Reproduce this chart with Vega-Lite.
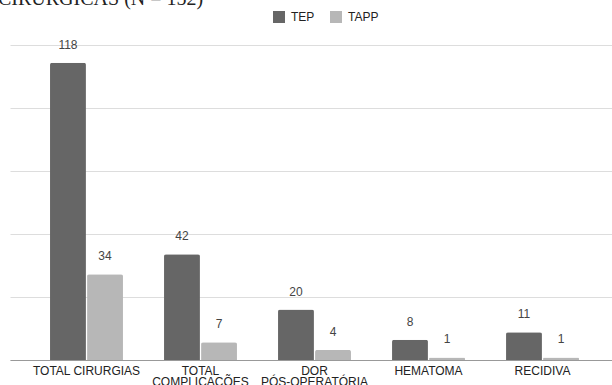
{
  "$schema": "https://vega.github.io/schema/vega-lite/v6.json",
  "autosize": {"type": "none"},
  "width": 609,
  "height": 315,
  "padding": {"left": 10, "top": 45, "right": 0, "bottom": 25},
  "background": "white",
  "title": {
    "text": "CIRÚRGICAS (N = 152)",
    "anchor": "start",
    "frame": "group",
    "font": "Liberation Serif",
    "fontSize": 20,
    "fontWeight": "normal",
    "color": "#222222",
    "baseline": "alphabetic",
    "offset": 6,
    "dy": 20,
    "dx": -12
  },
  "data": {
    "values": [
      {"categoria": "TOTAL CIRURGIAS", "grupo": "TEP", "n": 118},
      {"categoria": "TOTAL CIRURGIAS", "grupo": "TAPP", "n": 34},
      {"categoria": "TOTAL COMPLICAÇÕES", "grupo": "TEP", "n": 42},
      {"categoria": "TOTAL COMPLICAÇÕES", "grupo": "TAPP", "n": 7},
      {"categoria": "DOR PÓS-OPERATÓRIA", "grupo": "TEP", "n": 20},
      {"categoria": "DOR PÓS-OPERATÓRIA", "grupo": "TAPP", "n": 4},
      {"categoria": "HEMATOMA", "grupo": "TEP", "n": 8},
      {"categoria": "HEMATOMA", "grupo": "TAPP", "n": 1},
      {"categoria": "RECIDIVA", "grupo": "TEP", "n": 11},
      {"categoria": "RECIDIVA", "grupo": "TAPP", "n": 1}
    ]
  },
  "encoding": {
    "x": {
      "field": "categoria",
      "type": "nominal",
      "sort": null,
      "title": null,
      "scale": {"paddingInner": 0.36, "paddingOuter": 0.351},
      "axis": {
        "labelAngle": 0,
        "ticks": false,
        "domainColor": "#999999",
        "labelFont": "Liberation Sans",
        "labelFontSize": 12,
        "labelColor": "#222222",
        "labelPadding": 5,
        "labelLineHeight": 11,
        "labelLimit": 0,
        "labelExpr": "datum.value == 'TOTAL COMPLICAÇÕES' ? ['TOTAL', 'COMPLICAÇÕES'] : datum.value == 'DOR PÓS-OPERATÓRIA' ? ['DOR', 'PÓS-OPERATÓRIA'] : datum.value"
      }
    },
    "xOffset": {
      "field": "grupo",
      "type": "nominal",
      "sort": ["TEP", "TAPP"],
      "scale": {"paddingInner": 0.03}
    },
    "y": {
      "field": "n",
      "type": "quantitative",
      "title": null,
      "scale": {"domain": [0, 125], "nice": false},
      "axis": {
        "values": [0, 25, 50, 75, 100, 125],
        "labels": false,
        "ticks": false,
        "domain": false,
        "gridColor": "#dddddd",
        "gridWidth": 1
      }
    }
  },
  "layer": [
    {
      "mark": {"type": "bar", "cornerRadiusTopLeft": 2, "cornerRadiusTopRight": 2},
      "encoding": {
        "color": {
          "field": "grupo",
          "type": "nominal",
          "sort": ["TEP", "TAPP"],
          "scale": {"domain": ["TEP", "TAPP"], "range": ["#666666", "#b7b7b7"]},
          "legend": {
            "title": null,
            "orient": "none",
            "direction": "horizontal",
            "legendX": 263,
            "legendY": -34,
            "symbolType": "square",
            "symbolSize": 144,
            "symbolStrokeWidth": 0,
            "labelFont": "Liberation Sans",
            "labelFontSize": 12,
            "labelColor": "#222222",
            "columnPadding": 15,
            "labelOffset": 6
          }
        }
      }
    },
    {
      "mark": {
        "type": "text",
        "dy": -18,
        "baseline": "middle",
        "font": "Liberation Sans",
        "fontSize": 12,
        "color": "#444444"
      },
      "encoding": {
        "text": {"field": "n", "type": "quantitative"}
      }
    }
  ],
  "config": {
    "view": {"stroke": null}
  }
}
